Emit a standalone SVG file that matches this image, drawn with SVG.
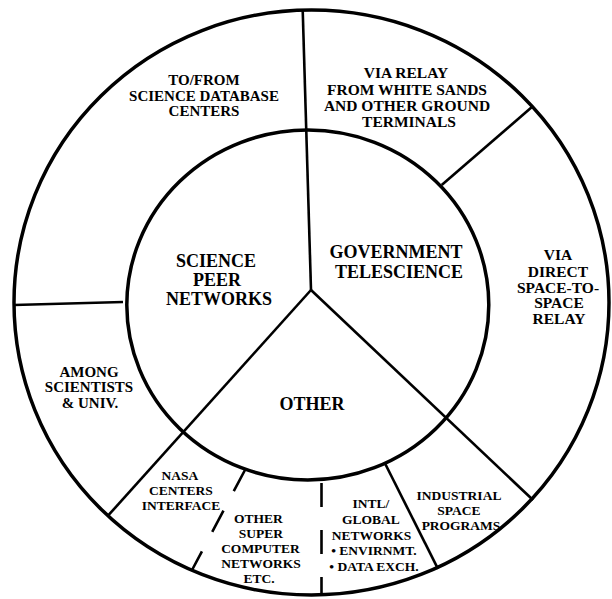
<svg xmlns="http://www.w3.org/2000/svg" width="612" height="599" viewBox="0 0 612 599">
  <style>
    .ring { fill: none; stroke: #000; stroke-width: 3.5; }
    .div { fill: none; stroke: #000; stroke-width: 2.6; }
    .dash1 { fill: none; stroke: #000; stroke-width: 2.6; stroke-dasharray: 24 22; }
    .dash2 { fill: none; stroke: #000; stroke-width: 2.6; stroke-dasharray: 24 23; }
    text { font-family: "Liberation Serif", "Times New Roman", serif; font-weight: bold; fill: #000; text-anchor: middle; }
    .big { font-size: 18px; }
    .mid { font-size: 15.5px; }
    .mid2 { font-size: 15px; }
    .sm { font-size: 13.5px; }
  </style>
  <rect x="0" y="0" width="612" height="599" fill="#fff"/>
  <g id="rings">
    <ellipse class="ring" cx="311.5" cy="302.5" rx="297.5" ry="292.5"/>
    <ellipse class="ring" cx="307.8" cy="305" rx="181" ry="175"/>
  </g>
  <g id="connectors">
    <line class="div" x1="302.7" y1="10" x2="311" y2="290"/>
    <line class="div" x1="311" y1="290" x2="108" y2="515.7"/>
    <line class="div" x1="311" y1="290" x2="533" y2="500"/>
    <line class="div" x1="441.7" y1="185" x2="532.5" y2="106.5"/>
    <line class="div" x1="14" y1="305" x2="123" y2="302"/>
    <line class="div" x1="384.8" y1="463" x2="438" y2="568.8"/>
    <line class="dash1" x1="245" y1="470" x2="191.5" y2="571"/>
    <line class="dash2" x1="321.5" y1="483" x2="321.5" y2="595"/>
  </g>
  <g id="science-peer-networks">
    <text class="big" x="216" y="267">SCIENCE</text>
    <text class="big" x="217" y="286">PEER</text>
    <text class="big" x="219" y="305">NETWORKS</text>
  </g>
  <g id="government-telescience">
    <text class="big" x="396" y="258">GOVERNMENT</text>
    <text class="big" x="399" y="278">TELESCIENCE</text>
  </g>
  <g id="other">
    <text class="big" x="312" y="410">OTHER</text>
  </g>
  <g id="science-database-centers">
    <text class="mid2" x="204" y="85">TO/FROM</text>
    <text class="mid2" x="204" y="100.5">SCIENCE DATABASE</text>
    <text class="mid2" x="204" y="116">CENTERS</text>
  </g>
  <g id="via-relay">
    <text class="mid" x="406" y="78">VIA RELAY</text>
    <text class="mid" x="407" y="94.5">FROM WHITE SANDS</text>
    <text class="mid" x="407" y="111">AND OTHER GROUND</text>
    <text class="mid" x="409" y="127">TERMINALS</text>
  </g>
  <g id="via-direct">
    <text class="mid" x="558" y="260">VIA</text>
    <text class="mid" x="558" y="276.5">DIRECT</text>
    <text class="mid" x="558" y="292.5">SPACE-TO-</text>
    <text class="mid" x="559" y="308">SPACE</text>
    <text class="mid" x="559" y="323.5">RELAY</text>
  </g>
  <g id="among-scientists">
    <text class="mid2" x="89" y="376.5">AMONG</text>
    <text class="mid2" x="89" y="392">SCIENTISTS</text>
    <text class="mid2" x="90" y="407.5">&amp; UNIV.</text>
  </g>
  <g id="nasa-centers">
    <text class="sm" x="180" y="480">NASA</text>
    <text class="sm" x="181" y="495">CENTERS</text>
    <text class="sm" x="181" y="510">INTERFACE</text>
  </g>
  <g id="other-super-computer">
    <text class="sm" x="258.5" y="523">OTHER</text>
    <text class="sm" x="261" y="538">SUPER</text>
    <text class="sm" x="260.5" y="553">COMPUTER</text>
    <text class="sm" x="261" y="568">NETWORKS</text>
    <text class="sm" x="259" y="583">ETC.</text>
  </g>
  <g id="intl-global">
    <text class="sm" x="371" y="508">INTL/</text>
    <text class="sm" x="371" y="524">GLOBAL</text>
    <text class="sm" x="371.5" y="540">NETWORKS</text>
    <text class="sm" x="374" y="555">• ENVIRNMT.</text>
    <text class="sm" x="374" y="571">• DATA EXCH.</text>
  </g>
  <g id="industrial-space">
    <text class="sm" x="459" y="500">INDUSTRIAL</text>
    <text class="sm" x="459" y="515">SPACE</text>
    <text class="sm" x="461" y="530">PROGRAMS</text>
  </g>
</svg>
